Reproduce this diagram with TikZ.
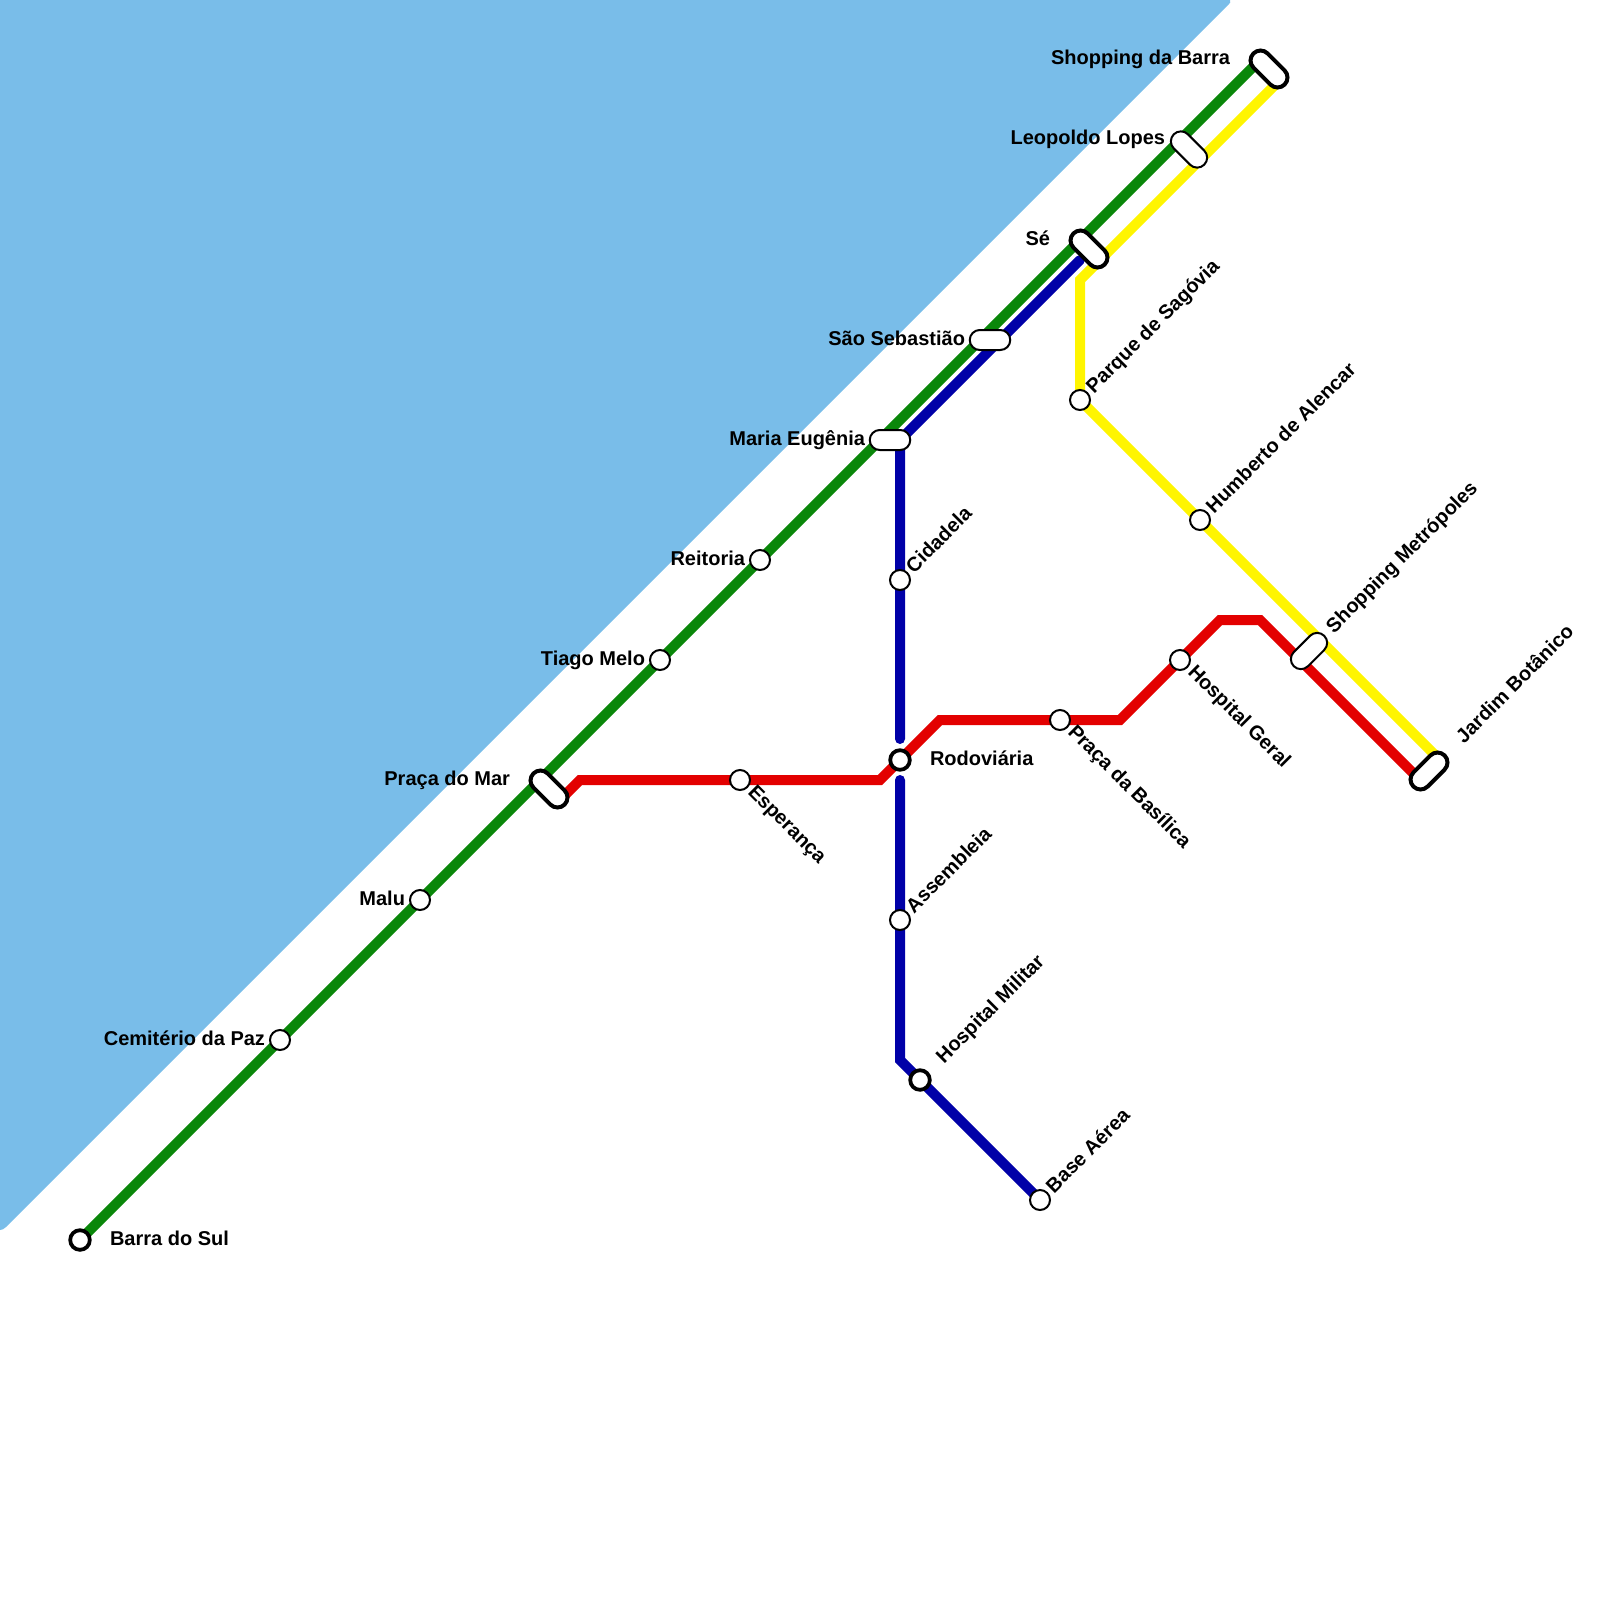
\documentclass[tikz,border=0pt]{standalone}
\usepackage{fontspec}
\setmainfont{Liberation Sans}
\usetikzlibrary{shapes.misc}
\definecolor{water}{HTML}{79BDE9}
\definecolor{lgreen}{HTML}{0A870A}
\definecolor{lblue}{HTML}{0000A8}
\definecolor{lred}{HTML}{E30000}
\definecolor{lyellow}{HTML}{FFF500}
\tikzset{
 route/.style={line width=10pt,line cap=round,line join=miter},
 stop/.style={circle,draw=black,fill=white,line width=2pt,minimum size=20pt,inner sep=0pt,outer sep=0pt},
 term/.style={circle,draw=black,fill=white,line width=3.8pt,minimum size=19.6pt,inner sep=0pt,outer sep=0pt},
 pill/.style={rounded rectangle,draw=black,fill=white,line width=2pt,minimum width=40.5pt,minimum height=20pt,inner sep=0pt,outer sep=0pt},
 dpill/.style={pill,minimum width=43pt},
 tpill/.style={pill,line width=4pt,minimum width=44pt,minimum height=20pt},
 lab/.style={font=\bfseries\fontsize{20pt}{22pt}\selectfont,inner sep=0pt,outer sep=0pt,text=black},
 lw/.style={lab,anchor=base east},
 le/.style={lab,anchor=base west},
 lu/.style={lab,anchor=base west,rotate=45},
 ld/.style={lab,anchor=base west,rotate=-45},
}
\begin{document}
\begin{tikzpicture}[x=1pt,y=-1pt]
\useasboundingbox (0,0) rectangle (1600,1600);
\fill[water] (0,0) -- (1230,0) .. controls (1231,2) and (1230,3) .. (1229,4) -- (6,1227) .. controls (4,1229) and (2,1230) .. (0,1230) -- cycle;
% coordinates
\coordinate (barra) at (80,1240);
\coordinate (cem) at (280,1040);
\coordinate (malu) at (420,900);
\coordinate (tiago) at (660,660);
\coordinate (reit) at (760,560);
\coordinate (shopA) at (1260,60);
\coordinate (shopB) at (1280,80);
\coordinate (mariaB) at (900,440);
\coordinate (seB) at (1080,260);
\coordinate (yb) at (1080,280);
\coordinate (parque) at (1080,400);
\coordinate (humb) at (1200,520);
\coordinate (jardY) at (1440,760);
\coordinate (jardR) at (1420,780);
\coordinate (marR) at (560,800);
\coordinate (r1) at (580,780);
\coordinate (esp) at (740,780);
\coordinate (r2) at (880,780);
\coordinate (rod) at (900,760);
\coordinate (r3) at (940,720);
\coordinate (bas) at (1060,720);
\coordinate (r4) at (1120,720);
\coordinate (hgeral) at (1180,660);
\coordinate (r5) at (1220,620);
\coordinate (r6) at (1260,620);
\coordinate (cid) at (900,580);
\coordinate (gapA) at (900,739);
\coordinate (gapB) at (900,780);
\coordinate (ass) at (900,920);
\coordinate (b1) at (900,1060);
\coordinate (hmil) at (920,1080);
\coordinate (base) at (1040,1200);
% lines
\draw[route,lgreen] (barra) -- (shopA);
\draw[route,lblue] (seB) -- (mariaB) -- (cid) -- (gapA);
\draw[route,lblue] (gapB) -- (ass) -- (b1) -- (hmil) -- (base);
\draw[route,lred] (marR) -- (r1) -- (r2) -- (r3) -- (r4) -- (r5) -- (r6) -- (jardR);
\draw[route,lyellow] (shopB) -- (yb) -- (parque) -- (jardY);
% stations
\node[term] (nBarra) at (barra) {};
\node[stop] (nCem) at (cem) {};
\node[stop] (nMalu) at (malu) {};
\node[tpill,rotate=-45] (nMar) at (549,789) {};
\node[stop] (nTiago) at (tiago) {};
\node[stop] (nReit) at (reit) {};
\node[pill] (nMaria) at (890,440) {};
\node[pill] (nSeb) at (990,340) {};
\node[tpill,rotate=-45] (nSe) at (1089,249) {};
\node[dpill,rotate=-45] (nLeo) at (1189,149.5) {};
\node[tpill,rotate=-45] (nShop) at (1269,69) {};
\node[stop] (nCid) at (cid) {};
\node[term] (nRod) at (rod) {};
\node[stop] (nAss) at (ass) {};
\node[term] (nHmil) at (hmil) {};
\node[stop] (nBase) at (base) {};
\node[stop] (nEsp) at (esp) {};
\node[stop] (nBas) at (bas) {};
\node[stop] (nHgeral) at (hgeral) {};
\node[dpill,rotate=45] (nMet) at (1309,651) {};
\node[tpill,rotate=45] (nJard) at (1429,771) {};
\node[stop] (nParque) at (parque) {};
\node[stop] (nHumb) at (humb) {};
% labels
\node[le] (tBarra) at (110,1245) {Barra do Sul};
\node[lw] (tCem) at (265,1045) {Cemitério da Paz};
\node[lw] (tMalu) at (405,905) {Malu};
\node[lw] (tMar) at (510,785) {Praça do Mar};
\node[lw] (tTiago) at (645,665) {Tiago Melo};
\node[lw] (tReit) at (745,565) {Reitoria};
\node[lw] (tMaria) at (865,445) {Maria Eugênia};
\node[lw] (tSeb) at (965,345) {São Sebastião};
\node[lw] (tSe) at (1050,245) {Sé};
\node[lw] (tLeo) at (1165,145) {Leopoldo Lopes};
\node[lw] (tShop) at (1230,65) {Shopping da Barra};
\node[le] (tRod) at (930,765) {Rodoviária};
\node[lu] (tCid) at (914,574) {Cidadela};
\node[lu] (tAss) at (914,914) {Assembleia};
\node[lu] (tHmil) at (944,1064) {Hospital Militar};
\node[lu] (tBase) at (1054,1194) {Base Aérea};
\node[lu] (tParque) at (1094,394) {Parque de Sagóvia};
\node[lu] (tHumb) at (1214,514) {Humberto de Alencar};
\node[lu] (tMet) at (1334,634) {Shopping Metrópoles};
\node[lu] (tJard) at (1464,744) {Jardim Botânico};
\node[ld] (tEsp) at (747,793) {Esperança};
\node[ld] (tBas) at (1067,733) {Praça da Basílica};
\node[ld] (tHgeral) at (1187,673) {Hospital Geral};
\end{tikzpicture}
\end{document}
